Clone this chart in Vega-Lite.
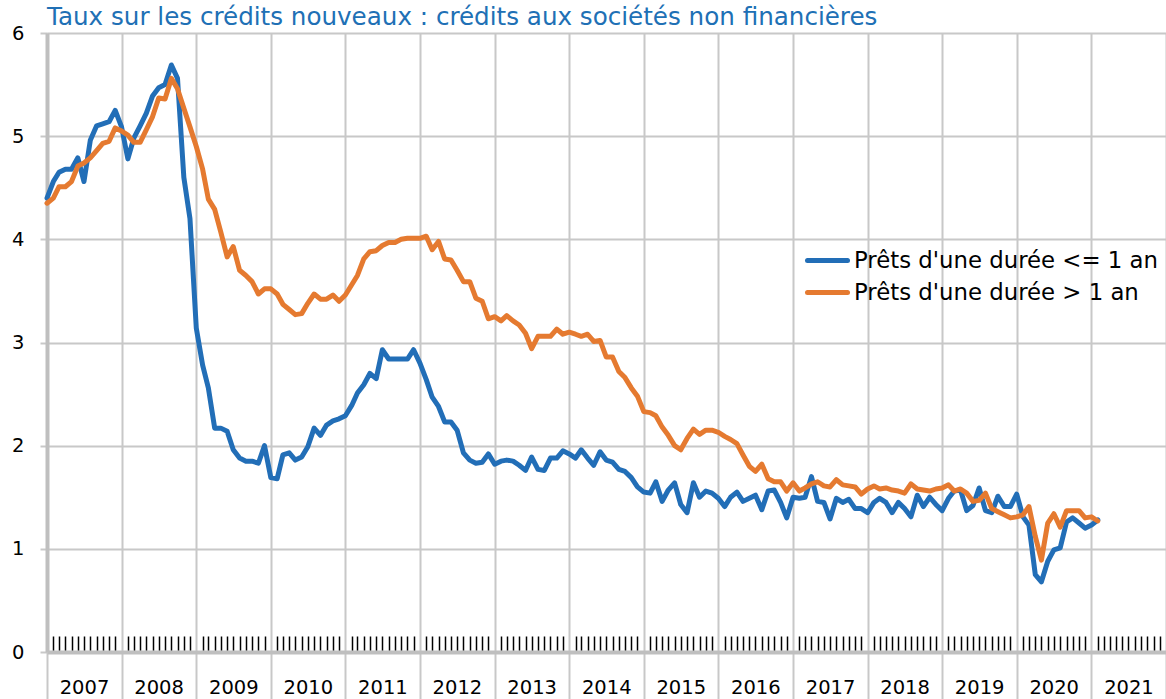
{
  "$schema": "https://vega.github.io/schema/vega-lite/v6.json",
  "width": 1119,
  "height": 619,
  "autosize": {"type": "none"},
  "padding": {"left": 47, "top": 33, "right": 0, "bottom": 47},
  "background": "white",
  "title": {
    "text": "Taux sur les crédits nouveaux : crédits aux sociétés non financières",
    "anchor": "start",
    "frame": "group",
    "font": "DejaVu Sans",
    "fontSize": 24.6,
    "fontWeight": "normal",
    "color": "#2070B5",
    "baseline": "alphabetic",
    "offset": 0,
    "dy": 27
  },
  "data": {
    "format": {"parse": {"mois": "utc:'%Y-%m'"}},
    "values": [
      {"mois": "2007-01", "court": 4.40, "long": 4.35},
      {"mois": "2007-02", "court": 4.56, "long": 4.40},
      {"mois": "2007-03", "court": 4.65, "long": 4.51},
      {"mois": "2007-04", "court": 4.68, "long": 4.51},
      {"mois": "2007-05", "court": 4.68, "long": 4.56},
      {"mois": "2007-06", "court": 4.79, "long": 4.71},
      {"mois": "2007-07", "court": 4.56, "long": 4.74},
      {"mois": "2007-08", "court": 4.96, "long": 4.79},
      {"mois": "2007-09", "court": 5.10, "long": 4.86},
      {"mois": "2007-10", "court": 5.12, "long": 4.93},
      {"mois": "2007-11", "court": 5.14, "long": 4.95},
      {"mois": "2007-12", "court": 5.25, "long": 5.08},
      {"mois": "2008-01", "court": 5.09, "long": 5.05},
      {"mois": "2008-02", "court": 4.78, "long": 5.01},
      {"mois": "2008-03", "court": 4.98, "long": 4.94},
      {"mois": "2008-04", "court": 5.10, "long": 4.94},
      {"mois": "2008-05", "court": 5.22, "long": 5.06},
      {"mois": "2008-06", "court": 5.39, "long": 5.19},
      {"mois": "2008-07", "court": 5.47, "long": 5.37},
      {"mois": "2008-08", "court": 5.50, "long": 5.36},
      {"mois": "2008-09", "court": 5.69, "long": 5.56},
      {"mois": "2008-10", "court": 5.56, "long": 5.46},
      {"mois": "2008-11", "court": 4.60, "long": 5.27},
      {"mois": "2008-12", "court": 4.20, "long": 5.09},
      {"mois": "2009-01", "court": 3.14, "long": 4.90},
      {"mois": "2009-02", "court": 2.78, "long": 4.68},
      {"mois": "2009-03", "court": 2.56, "long": 4.39},
      {"mois": "2009-04", "court": 2.17, "long": 4.29},
      {"mois": "2009-05", "court": 2.17, "long": 4.07},
      {"mois": "2009-06", "court": 2.14, "long": 3.83},
      {"mois": "2009-07", "court": 1.96, "long": 3.93},
      {"mois": "2009-08", "court": 1.88, "long": 3.70},
      {"mois": "2009-09", "court": 1.85, "long": 3.65},
      {"mois": "2009-10", "court": 1.85, "long": 3.59},
      {"mois": "2009-11", "court": 1.83, "long": 3.47},
      {"mois": "2009-12", "court": 2.00, "long": 3.52},
      {"mois": "2010-01", "court": 1.69, "long": 3.52},
      {"mois": "2010-02", "court": 1.68, "long": 3.47},
      {"mois": "2010-03", "court": 1.91, "long": 3.37},
      {"mois": "2010-04", "court": 1.93, "long": 3.32},
      {"mois": "2010-05", "court": 1.86, "long": 3.27},
      {"mois": "2010-06", "court": 1.89, "long": 3.28},
      {"mois": "2010-07", "court": 1.99, "long": 3.38},
      {"mois": "2010-08", "court": 2.17, "long": 3.47},
      {"mois": "2010-09", "court": 2.10, "long": 3.42},
      {"mois": "2010-10", "court": 2.20, "long": 3.42},
      {"mois": "2010-11", "court": 2.24, "long": 3.46},
      {"mois": "2010-12", "court": 2.26, "long": 3.40},
      {"mois": "2011-01", "court": 2.29, "long": 3.46},
      {"mois": "2011-02", "court": 2.39, "long": 3.56},
      {"mois": "2011-03", "court": 2.51, "long": 3.65},
      {"mois": "2011-04", "court": 2.59, "long": 3.81},
      {"mois": "2011-05", "court": 2.70, "long": 3.88},
      {"mois": "2011-06", "court": 2.65, "long": 3.89},
      {"mois": "2011-07", "court": 2.93, "long": 3.94},
      {"mois": "2011-08", "court": 2.84, "long": 3.97},
      {"mois": "2011-09", "court": 2.84, "long": 3.97},
      {"mois": "2011-10", "court": 2.84, "long": 4.00},
      {"mois": "2011-11", "court": 2.84, "long": 4.01},
      {"mois": "2011-12", "court": 2.93, "long": 4.01},
      {"mois": "2012-01", "court": 2.80, "long": 4.01},
      {"mois": "2012-02", "court": 2.64, "long": 4.03},
      {"mois": "2012-03", "court": 2.47, "long": 3.90},
      {"mois": "2012-04", "court": 2.38, "long": 3.98},
      {"mois": "2012-05", "court": 2.23, "long": 3.81},
      {"mois": "2012-06", "court": 2.23, "long": 3.80},
      {"mois": "2012-07", "court": 2.15, "long": 3.70},
      {"mois": "2012-08", "court": 1.93, "long": 3.59},
      {"mois": "2012-09", "court": 1.86, "long": 3.59},
      {"mois": "2012-10", "court": 1.83, "long": 3.43},
      {"mois": "2012-11", "court": 1.84, "long": 3.40},
      {"mois": "2012-12", "court": 1.92, "long": 3.23},
      {"mois": "2013-01", "court": 1.82, "long": 3.25},
      {"mois": "2013-02", "court": 1.85, "long": 3.21},
      {"mois": "2013-03", "court": 1.86, "long": 3.26},
      {"mois": "2013-04", "court": 1.85, "long": 3.21},
      {"mois": "2013-05", "court": 1.81, "long": 3.17},
      {"mois": "2013-06", "court": 1.76, "long": 3.09},
      {"mois": "2013-07", "court": 1.89, "long": 2.94},
      {"mois": "2013-08", "court": 1.77, "long": 3.06},
      {"mois": "2013-09", "court": 1.76, "long": 3.06},
      {"mois": "2013-10", "court": 1.88, "long": 3.06},
      {"mois": "2013-11", "court": 1.88, "long": 3.13},
      {"mois": "2013-12", "court": 1.95, "long": 3.08},
      {"mois": "2014-01", "court": 1.92, "long": 3.10},
      {"mois": "2014-02", "court": 1.88, "long": 3.08},
      {"mois": "2014-03", "court": 1.96, "long": 3.06},
      {"mois": "2014-04", "court": 1.88, "long": 3.08},
      {"mois": "2014-05", "court": 1.81, "long": 3.01},
      {"mois": "2014-06", "court": 1.94, "long": 3.02},
      {"mois": "2014-07", "court": 1.86, "long": 2.86},
      {"mois": "2014-08", "court": 1.84, "long": 2.86},
      {"mois": "2014-09", "court": 1.77, "long": 2.72},
      {"mois": "2014-10", "court": 1.75, "long": 2.66},
      {"mois": "2014-11", "court": 1.69, "long": 2.56},
      {"mois": "2014-12", "court": 1.60, "long": 2.48},
      {"mois": "2015-01", "court": 1.55, "long": 2.33},
      {"mois": "2015-02", "court": 1.54, "long": 2.32},
      {"mois": "2015-03", "court": 1.65, "long": 2.29},
      {"mois": "2015-04", "court": 1.46, "long": 2.18},
      {"mois": "2015-05", "court": 1.57, "long": 2.10},
      {"mois": "2015-06", "court": 1.64, "long": 2.00},
      {"mois": "2015-07", "court": 1.43, "long": 1.96},
      {"mois": "2015-08", "court": 1.35, "long": 2.07},
      {"mois": "2015-09", "court": 1.64, "long": 2.16},
      {"mois": "2015-10", "court": 1.50, "long": 2.11},
      {"mois": "2015-11", "court": 1.56, "long": 2.15},
      {"mois": "2015-12", "court": 1.54, "long": 2.15},
      {"mois": "2016-01", "court": 1.49, "long": 2.13},
      {"mois": "2016-02", "court": 1.41, "long": 2.09},
      {"mois": "2016-03", "court": 1.50, "long": 2.06},
      {"mois": "2016-04", "court": 1.55, "long": 2.02},
      {"mois": "2016-05", "court": 1.46, "long": 1.91},
      {"mois": "2016-06", "court": 1.49, "long": 1.80},
      {"mois": "2016-07", "court": 1.52, "long": 1.75},
      {"mois": "2016-08", "court": 1.38, "long": 1.82},
      {"mois": "2016-09", "court": 1.56, "long": 1.68},
      {"mois": "2016-10", "court": 1.57, "long": 1.65},
      {"mois": "2016-11", "court": 1.45, "long": 1.65},
      {"mois": "2016-12", "court": 1.30, "long": 1.56},
      {"mois": "2017-01", "court": 1.50, "long": 1.64},
      {"mois": "2017-02", "court": 1.49, "long": 1.56},
      {"mois": "2017-03", "court": 1.50, "long": 1.59},
      {"mois": "2017-04", "court": 1.70, "long": 1.63},
      {"mois": "2017-05", "court": 1.46, "long": 1.65},
      {"mois": "2017-06", "court": 1.45, "long": 1.61},
      {"mois": "2017-07", "court": 1.29, "long": 1.60},
      {"mois": "2017-08", "court": 1.49, "long": 1.67},
      {"mois": "2017-09", "court": 1.45, "long": 1.62},
      {"mois": "2017-10", "court": 1.48, "long": 1.61},
      {"mois": "2017-11", "court": 1.39, "long": 1.60},
      {"mois": "2017-12", "court": 1.39, "long": 1.53},
      {"mois": "2018-01", "court": 1.35, "long": 1.58},
      {"mois": "2018-02", "court": 1.45, "long": 1.61},
      {"mois": "2018-03", "court": 1.49, "long": 1.58},
      {"mois": "2018-04", "court": 1.45, "long": 1.59},
      {"mois": "2018-05", "court": 1.35, "long": 1.57},
      {"mois": "2018-06", "court": 1.45, "long": 1.56},
      {"mois": "2018-07", "court": 1.39, "long": 1.54},
      {"mois": "2018-08", "court": 1.31, "long": 1.63},
      {"mois": "2018-09", "court": 1.52, "long": 1.58},
      {"mois": "2018-10", "court": 1.41, "long": 1.57},
      {"mois": "2018-11", "court": 1.50, "long": 1.56},
      {"mois": "2018-12", "court": 1.43, "long": 1.58},
      {"mois": "2019-01", "court": 1.37, "long": 1.59},
      {"mois": "2019-02", "court": 1.49, "long": 1.62},
      {"mois": "2019-03", "court": 1.56, "long": 1.56},
      {"mois": "2019-04", "court": 1.57, "long": 1.58},
      {"mois": "2019-05", "court": 1.37, "long": 1.54},
      {"mois": "2019-06", "court": 1.42, "long": 1.46},
      {"mois": "2019-07", "court": 1.59, "long": 1.47},
      {"mois": "2019-08", "court": 1.37, "long": 1.54},
      {"mois": "2019-09", "court": 1.35, "long": 1.39},
      {"mois": "2019-10", "court": 1.51, "long": 1.36},
      {"mois": "2019-11", "court": 1.41, "long": 1.33},
      {"mois": "2019-12", "court": 1.41, "long": 1.30},
      {"mois": "2020-01", "court": 1.53, "long": 1.31},
      {"mois": "2020-02", "court": 1.31, "long": 1.33},
      {"mois": "2020-03", "court": 1.23, "long": 1.41},
      {"mois": "2020-04", "court": 0.75, "long": 1.12},
      {"mois": "2020-05", "court": 0.68, "long": 0.89},
      {"mois": "2020-06", "court": 0.88, "long": 1.25},
      {"mois": "2020-07", "court": 0.99, "long": 1.34},
      {"mois": "2020-08", "court": 1.01, "long": 1.21},
      {"mois": "2020-09", "court": 1.26, "long": 1.37},
      {"mois": "2020-10", "court": 1.30, "long": 1.37},
      {"mois": "2020-11", "court": 1.25, "long": 1.37},
      {"mois": "2020-12", "court": 1.20, "long": 1.30},
      {"mois": "2021-01", "court": 1.23, "long": 1.31},
      {"mois": "2021-02", "court": 1.28, "long": 1.27}
    ]
  },
  "layer": [
    {
      "transform": [{"fold": ["court", "long"], "as": ["serie", "taux"]}],
      "mark": {"type": "line", "strokeWidth": 5, "strokeJoin": "round", "strokeCap": "round"},
      "encoding": {
        "x": {
          "field": "mois",
          "type": "temporal",
          "scale": {
            "type": "utc",
            "domain": [
              {"year": 2007, "month": 1, "date": 1, "utc": true},
              {"year": 2022, "month": 1, "date": 1, "utc": true}
            ]
          },
          "axis": {
            "orient": "bottom",
            "title": null,
            "values": [
              {"year": 2007, "month": 1, "date": 1, "utc": true},
              {"year": 2008, "month": 1, "date": 1, "utc": true},
              {"year": 2009, "month": 1, "date": 1, "utc": true},
              {"year": 2010, "month": 1, "date": 1, "utc": true},
              {"year": 2011, "month": 1, "date": 1, "utc": true},
              {"year": 2012, "month": 1, "date": 1, "utc": true},
              {"year": 2013, "month": 1, "date": 1, "utc": true},
              {"year": 2014, "month": 1, "date": 1, "utc": true},
              {"year": 2015, "month": 1, "date": 1, "utc": true},
              {"year": 2016, "month": 1, "date": 1, "utc": true},
              {"year": 2017, "month": 1, "date": 1, "utc": true},
              {"year": 2018, "month": 1, "date": 1, "utc": true},
              {"year": 2019, "month": 1, "date": 1, "utc": true},
              {"year": 2020, "month": 1, "date": 1, "utc": true},
              {"year": 2021, "month": 1, "date": 1, "utc": true},
              {"year": 2022, "month": 1, "date": 1, "utc": true}
            ],
            "labelExpr": "utcyear(datum.value) > 2021 ? '' : utcFormat(datum.value, '%Y')",
            "labelOffset": 37,
            "labelFlush": false,
            "labelOverlap": false,
            "labelPadding": -21,
            "labelFont": "DejaVu Sans",
            "labelFontSize": 19.5,
            "labelColor": "#000000",
            "tickSize": 47,
            "tickColor": "#c8c8c8",
            "tickWidth": 2,
            "grid": true,
            "gridColor": "#c8c8c8",
            "gridWidth": 2,
            "domainColor": "#bfbfbf",
            "domainWidth": 4
          }
        },
        "y": {
          "field": "taux",
          "type": "quantitative",
          "scale": {"domain": [0, 6], "nice": false},
          "axis": {
            "title": null,
            "values": [0, 1, 2, 3, 4, 5, 6],
            "grid": true,
            "gridColor": "#c8c8c8",
            "gridWidth": 2,
            "tickSize": 7,
            "tickColor": "#c8c8c8",
            "tickWidth": 2,
            "domainColor": "#bfbfbf",
            "domainWidth": 4,
            "labelPadding": 16,
            "labelFont": "DejaVu Sans",
            "labelFontSize": 19.5,
            "labelColor": "#000000"
          }
        },
        "color": {
          "field": "serie",
          "type": "nominal",
          "scale": {"domain": ["court", "long"], "range": ["#226EB7", "#E57A30"]},
          "legend": {
            "title": null,
            "orient": "none",
            "legendX": 768,
            "legendY": 215,
            "padding": 0,
            "symbolType": "M-2,0H2",
            "symbolSize": 400,
            "symbolStrokeWidth": 5,
            "labelOffset": 14,
            "labelLimit": 0,
            "rowPadding": 7,
            "labelFont": "DejaVu Sans",
            "labelFontSize": 22.8,
            "labelColor": "#000000",
            "labelExpr": "datum.label == 'court' ? \"Prêts d'une durée <= 1 an\" : \"Prêts d'une durée > 1 an\"",
            "encode": {"symbols": {"update": {"strokeCap": {"value": "round"}}}}
          }
        }
      }
    },
    {
      "mark": {"type": "point", "opacity": 0},
      "encoding": {
        "x": {
          "field": "mois",
          "type": "temporal",
          "scale": {"type": "utc"},
          "axis": {
            "orient": "bottom",
            "title": null,
            "offset": -16,
            "tickCount": {"interval": "month", "step": 1},
            "labels": false,
            "domain": false,
            "grid": false,
            "tickSize": 14,
            "tickWidth": 1.5,
            "tickColor": {"condition": {"test": "utcmonth(datum.value) == 0", "value": "transparent"}, "value": "#000000"}
          }
        }
      }
    }
  ],
  "resolve": {"axis": {"x": "independent"}},
  "config": {"view": {"stroke": null}}
}
